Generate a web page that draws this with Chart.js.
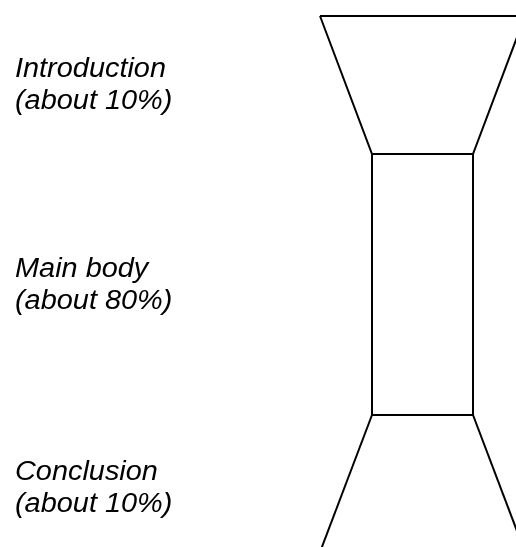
<!DOCTYPE html>
<html>
<head>
<meta charset="utf-8">
<script src="https://cdn.jsdelivr.net/npm/chart.js@4"></script>
<style>
  html, body { margin: 0; padding: 0; background: #fff; }
  #wrap { width: 516px; height: 547px; }
</style>
</head>
<body>
<div id="wrap"><canvas id="canvas"></canvas></div>
<script>
// section labels (two lines each) and where their baselines sit on the y axis
var sectionNames = ['Introduction', 'Main body', 'Conclusion'];
var sectionShares = ['(about 10%)', '(about 80%)', '(about 10%)'];
var labelY = [77, 277, 480];

// outline of the funnel, in axis units (x: 0-516, y: 0-547 top down)
var introX = [320, 525, 473, 372, 320];
var introY = [16, 16, 154, 154, 16];
var bodyX = [372, 473, 473, 372, 372];
var bodyY = [154, 154, 415, 415, 154];
var conclLeftX = [372, 317];
var conclLeftY = [415, 560];
var conclRightX = [473, 528];
var conclRightY = [415, 560];

function pts(xs, ys) {
	return xs.map(function(x, i) { return {x: x, y: ys[i]}; });
}

function outline(xs, ys) {
	return {
		data: pts(xs, ys),
		showLine: true,
		borderColor: '#000',
		borderWidth: 2,
		pointRadius: 0,
		tension: 0,
		fill: false,
		clip: false
	};
}

var labelPlugin = {
	id: 'sectionLabels',
	afterDatasetsDraw: function(chart) {
		var ctx = chart.ctx;
		var xs = chart.scales.x, ys = chart.scales.y;
		ctx.save();
		ctx.fillStyle = '#000';
		ctx.font = 'italic 27px "Liberation Sans", Arial, sans-serif';
		ctx.textBaseline = 'alphabetic';
		ctx.textAlign = 'left';
		// the source text is a bit wider than Arial at this size
		ctx.scale(1.07, 1);
		for (var i = 0; i < sectionNames.length; i++) {
			var x = xs.getPixelForValue(15) / 1.07;
			ctx.fillText(sectionNames[i], x, ys.getPixelForValue(labelY[i]));
			ctx.fillText(sectionShares[i], x, ys.getPixelForValue(labelY[i] + 32));
		}
		ctx.restore();
	}
};

var config = {
	type: 'scatter',
	data: {
		datasets: [
			outline(introX, introY),
			outline(bodyX, bodyY),
			outline(conclLeftX, conclLeftY),
			outline(conclRightX, conclRightY)
		]
	},
	options: {
		responsive: true,
		maintainAspectRatio: false,
		animation: false,
		layout: { padding: 0 },
		scales: {
			x: { type: 'linear', min: 0, max: 516, display: false },
			y: { type: 'linear', min: 0, max: 547, reverse: true, display: false }
		},
		plugins: {
			legend: { display: false },
			tooltip: { enabled: false }
		}
	},
	plugins: [labelPlugin]
};

var myChart = new Chart(document.getElementById('canvas'), config);
</script>
</body>
</html>
